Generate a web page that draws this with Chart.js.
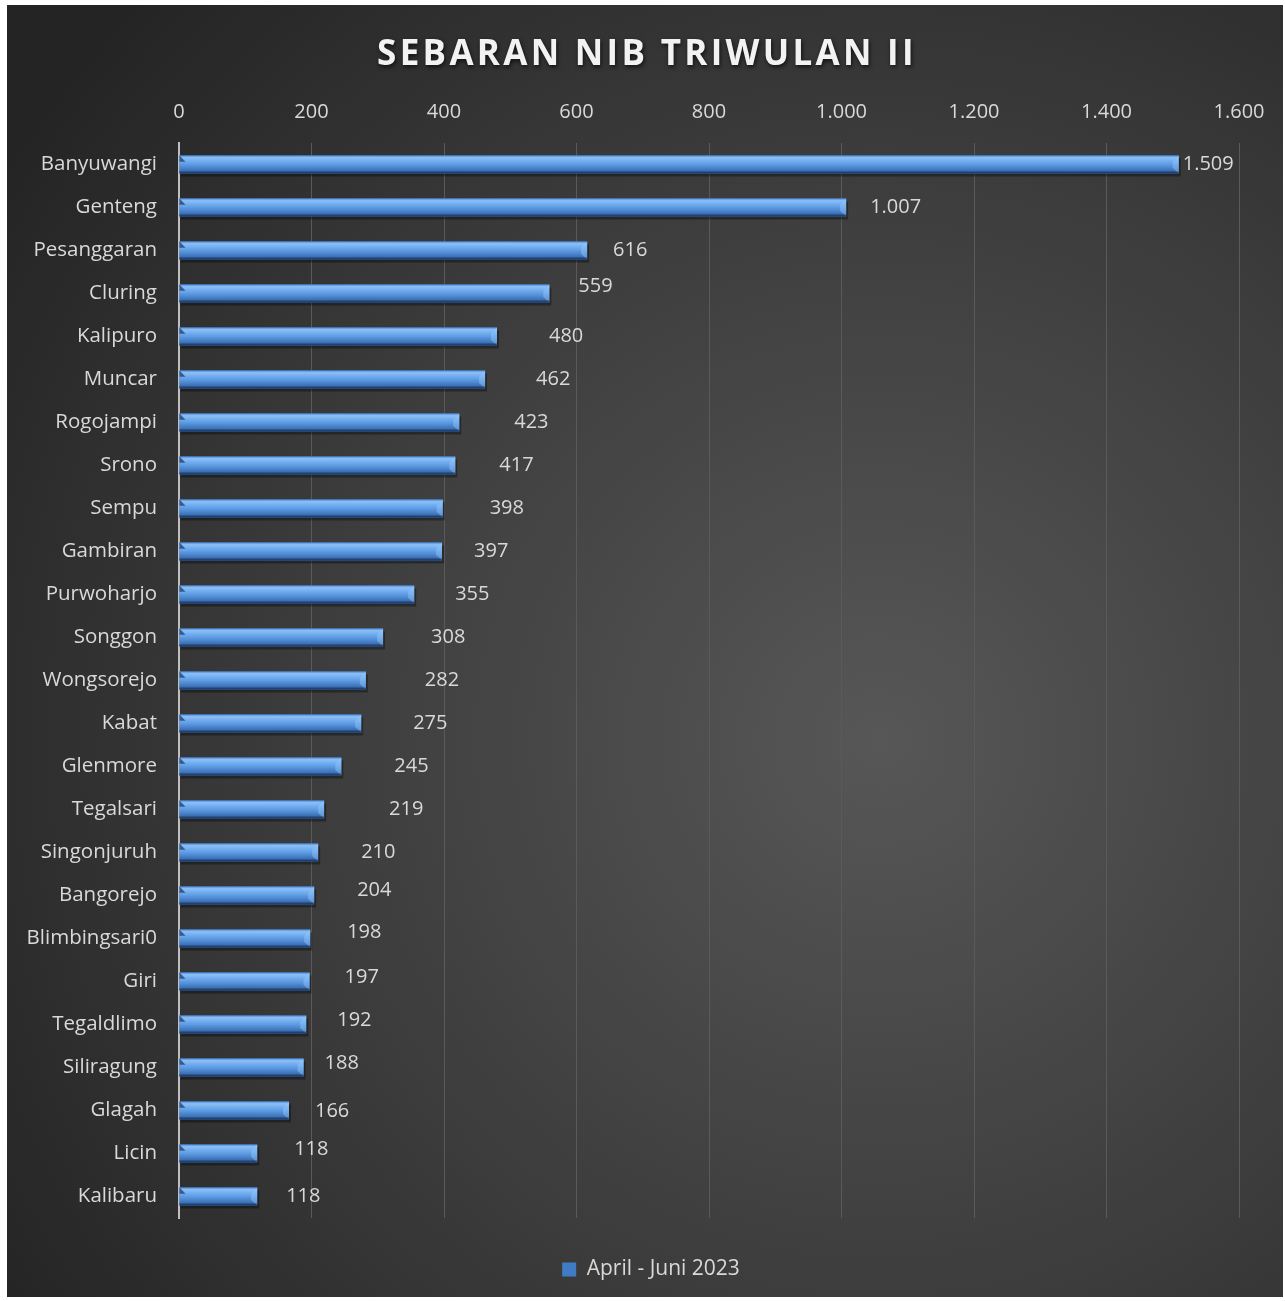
<!DOCTYPE html>
<html>
<head>
<meta charset="utf-8">
<title>Sebaran NIB Triwulan II</title>
<script src="https://cdn.jsdelivr.net/npm/chart.js@4.4.1/dist/chart.umd.min.js"></script>
<style>
    html, body { margin: 0; padding: 0; background: #ffffff; }
    canvas { display: block; }
</style>
</head>
<body>
<canvas id="chart-nib" width="1285" height="1301"></canvas>
<script>
// ---------------------------------------- DATA ----------------------------------------
const chartTitle = 'SEBARAN NIB TRIWULAN II';
const seriesName = 'April - Juni 2023';
const kecamatan = [
    'Banyuwangi', 'Genteng', 'Pesanggaran', 'Cluring', 'Kalipuro', 'Muncar', 'Rogojampi',
    'Srono', 'Sempu', 'Gambiran', 'Purwoharjo', 'Songgon', 'Wongsorejo', 'Kabat',
    'Glenmore', 'Tegalsari', 'Singonjuruh', 'Bangorejo', 'Blimbingsari0', 'Giri',
    'Tegaldlimo', 'Siliragung', 'Glagah', 'Licin', 'Kalibaru'
];
const jumlahNib = [
    1509, 1007, 616, 559, 480, 462, 423, 417, 398, 397, 355, 308, 282, 275,
    245, 219, 210, 204, 198, 197, 192, 188, 166, 118, 118
];
const axisMin = 0;
const axisMax = 1600;
const axisStep = 200;

// label nudges (px, relative to bar end) - labels in the original were dragged by hand
const labelDx = [4, 24, 26, 29, 52, 51, 55, 44, 47, 32, 41, 48, 59, 52, 53, 65, 43, 43, 37, 35, 31, 21, 26, 37, 29];
const labelDy = [0, 0, 0, -7, 0, 0, 0, 0, 0, 0, 0, 0, 0, 0, 0, 0, 0, -5, -6, -4, -4, -4, 1, -4, 0];

// ---------------------------------------- HELPERS ----------------------------------------
function formatID(n) {
    return String(n).replace(/\B(?=(\d{3})+(?!\d))/g, '.');
}

const FONT = '"Open Sans", "Noto Sans", sans-serif';
const TEXT_COLOR = '#d9d9d9';

// background: white frame + dark radial gradient
const backgroundPlugin = {
    id: 'bgPlugin',
    beforeDraw(chart) {
        const ctx = chart.ctx;
        ctx.save();
        ctx.fillStyle = '#ffffff';
        ctx.fillRect(0, 0, chart.width, chart.height);
        const g = ctx.createRadialGradient(880, 740, 0, 880, 740, 1050);
        g.addColorStop(0, '#575757');
        g.addColorStop(0.55, '#3c3c3c');
        g.addColorStop(1, '#242424');
        ctx.fillStyle = g;
        ctx.fillRect(7, 5, chart.width - 9, chart.height - 9);
        ctx.restore();
    }
};

// title with letter spacing and shadow
const titlePlugin = {
    id: 'titlePlugin',
    afterDraw(chart) {
        const ctx = chart.ctx;
        ctx.save();
        ctx.font = 'bold 35px ' + FONT;
        ctx.letterSpacing = '3.3px';
        ctx.textAlign = 'center';
        ctx.textBaseline = 'middle';
        ctx.shadowColor = 'rgba(0,0,0,0.7)';
        ctx.shadowBlur = 4;
        ctx.shadowOffsetX = 1;
        ctx.shadowOffsetY = 2;
        ctx.fillStyle = '#f2f2f2';
        ctx.fillText(chartTitle, 647, 55);
        ctx.restore();
    }
};

// beveled "3D" bars drawn over the library bars
function drawBevelBar(ctx, left, right, top, bottom) {
    const h = bottom - top;
    const b = Math.min(6, (right - left) / 2);
    const g = ctx.createLinearGradient(0, top, 0, bottom);
    g.addColorStop(0, '#4c8ad6');
    g.addColorStop(0.12, '#8cc0f6');
    g.addColorStop(0.3, '#74aef0');
    g.addColorStop(0.5, '#5d9be3');
    g.addColorStop(0.7, '#4a83cc');
    g.addColorStop(0.85, '#3c6fb0');
    g.addColorStop(1, '#2d578f');
    ctx.fillStyle = g;
    ctx.fillRect(left, top, right - left, h);
    // left facet (shaded)
    ctx.fillStyle = 'rgba(30,60,110,0.75)';
    ctx.beginPath();
    ctx.moveTo(left, top);
    ctx.lineTo(left + b, top + h * 0.35);
    ctx.lineTo(left, top + h * 0.35);
    ctx.closePath();
    ctx.fill();
    // right facet (lit)
    ctx.fillStyle = 'rgba(150,200,250,0.45)';
    ctx.beginPath();
    ctx.moveTo(right, top);
    ctx.lineTo(right, bottom);
    ctx.lineTo(right - b, bottom - h * 0.3);
    ctx.lineTo(right - b, top + h * 0.35);
    ctx.closePath();
    ctx.fill();
    // bottom edge
    ctx.fillStyle = 'rgba(20,45,85,0.6)';
    ctx.fillRect(left, bottom - 2, right - left, 2);
}

const bevelPlugin = {
    id: 'bevelPlugin',
    beforeDatasetsDraw(chart) {
        const ctx = chart.ctx;
        const meta = chart.getDatasetMeta(0);
        ctx.save();
        ctx.fillStyle = 'rgba(0,0,0,0.35)';
        meta.data.forEach(bar => {
            const p = bar.getProps(['x', 'y', 'base', 'height'], true);
            ctx.fillRect(p.base + 1, p.y - p.height / 2 + 3, p.x - p.base + 1, p.height);
        });
        ctx.restore();
    },
    afterDatasetsDraw(chart) {
        const ctx = chart.ctx;
        const meta = chart.getDatasetMeta(0);
        ctx.save();
        meta.data.forEach(bar => {
            const p = bar.getProps(['x', 'y', 'base', 'height'], true);
            drawBevelBar(ctx, p.base, p.x, p.y - p.height / 2, p.y + p.height / 2);
        });
        // value labels
        ctx.font = '20px ' + FONT;
        ctx.fillStyle = TEXT_COLOR;
        ctx.textAlign = 'left';
        ctx.textBaseline = 'middle';
        meta.data.forEach((bar, i) => {
            const p = bar.getProps(['x', 'y'], true);
            ctx.fillText(formatID(jumlahNib[i]), p.x + labelDx[i], p.y + labelDy[i]);
        });
        ctx.restore();
    }
};

// ---------------------------------------- CHART ----------------------------------------
const ctxNib = document.getElementById('chart-nib').getContext('2d');
const chart_nib = new Chart(ctxNib, {
    type: 'bar',
    data: {
        labels: kecamatan,
        datasets: [{
            label: seriesName,
            data: jumlahNib,
            backgroundColor: '#3f7cc6',
            borderWidth: 0,
            barPercentage: 0.42,
            categoryPercentage: 1
        }]
    },
    options: {
        responsive: false,
        animation: false,
        indexAxis: 'y',
        layout: {
            padding: { left: 24, right: 7, top: 83, bottom: 11 }
        },
        scales: {
            x: {
                position: 'top',
                min: axisMin,
                max: axisMax,
                ticks: {
                    stepSize: axisStep,
                    color: TEXT_COLOR,
                    font: { family: FONT, size: 20 },
                    padding: 19,
                    callback: v => formatID(v)
                },
                grid: { color: '#5a5a5a', lineWidth: 1, drawTicks: false },
                border: { display: false },
                afterFit: s => { s.height = 60; s.paddingRight = 46; s.paddingLeft = 0; }
            },
            y: {
                ticks: {
                    color: TEXT_COLOR,
                    font: { family: FONT, size: 20.5 },
                    padding: 22,
                    autoSkip: false
                },
                grid: { display: false, drawTicks: false },
                border: { display: true, color: '#bfbfbf', width: 2 },
                afterFit: s => { s.width = 155; }
            }
        },
        plugins: {
            title: { display: false },
            tooltip: { enabled: false },
            legend: {
                display: true,
                position: 'bottom',
                labels: {
                    color: TEXT_COLOR,
                    font: { family: FONT, size: 21 },
                    boxWidth: 14,
                    boxHeight: 14,
                    padding: 41
                }
            }
        }
    },
    plugins: [backgroundPlugin, bevelPlugin, titlePlugin]
});
</script>
</body>
</html>
